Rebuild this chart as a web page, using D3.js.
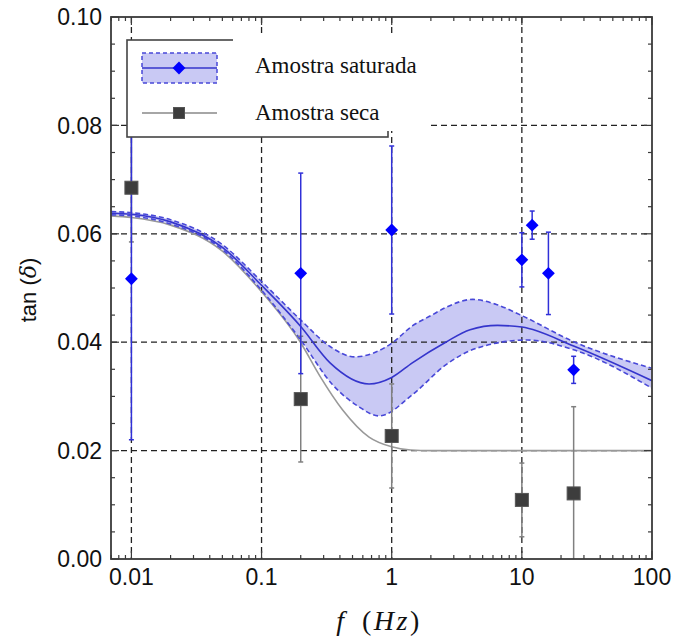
<!DOCTYPE html>
<html>
<head>
<meta charset="utf-8">
<script src="https://cdn.jsdelivr.net/npm/d3@7"></script>
<style>
  body { margin: 0; background: #fff; }
  svg { display: block; }
</style>
</head>
<body>
<svg id="chart" width="675" height="641"></svg>
<script>
// measured points (frequency in Hz, tan delta)
var satFreq = [0.01, 0.2, 1, 10, 12, 16, 25];
var satVal  = [0.0517, 0.0527, 0.0607, 0.0552, 0.0616, 0.0527, 0.0349];
var satErr  = [0.0297, 0.0185, 0.0155, 0.0050, 0.0026, 0.0076, 0.0025];

var dryFreq = [0.01, 0.2, 1, 10, 25];
var dryVal  = [0.0685, 0.0295, 0.0227, 0.0109, 0.0121];
var dryErr  = [0.0100, 0.0116, 0.0096, 0.0068, 0.0160];

// fitted curves
var satFit = [[0.007, 0.0638], [0.01, 0.0636], [0.02, 0.0622], [0.05, 0.0575], [0.1, 0.0505],
              [0.2, 0.0429], [0.336, 0.0362], [0.67, 0.0323], [1, 0.0335],
              [1.44, 0.0362], [2.6, 0.0400], [4, 0.0423], [6.5, 0.0431], [10, 0.0428],
              [25, 0.0393], [100, 0.0329]];
var satUpper = [[0.007, 0.0641], [0.01, 0.0639], [0.02, 0.0626], [0.05, 0.0580], [0.1, 0.0512],
                [0.2, 0.0441], [0.336, 0.0392], [0.52, 0.0373], [1, 0.0398],
                [1.44, 0.0430], [2, 0.0449], [2.6, 0.0464], [4.2, 0.0479], [6.3, 0.0470], [10, 0.0449],
                [25, 0.0401], [100, 0.0352]];
var satLower = [[0.007, 0.0635], [0.01, 0.0633], [0.02, 0.0618], [0.05, 0.0571], [0.1, 0.0496],
                [0.2, 0.0404], [0.35, 0.0322], [0.55, 0.0282], [0.8, 0.0264],
                [1.44, 0.0303], [2.6, 0.0358], [4.5, 0.0389], [11, 0.0404],
                [25, 0.0386], [100, 0.0315]];
var dryFit = [[0.007, 0.0633], [0.01, 0.0630], [0.02, 0.0616], [0.05, 0.0568], [0.1, 0.0493],
              [0.2, 0.0399], [0.28, 0.0338], [0.42, 0.0275], [0.67, 0.0225], [1, 0.0207],
              [1.4, 0.0201], [2, 0.0200], [100, 0.0200]];

var xTicks = [0.01, 0.1, 1, 10, 100];
var xTickLabels = ["0.01", "0.1", "1", "10", "100"];
var yTicks = [0, 0.02, 0.04, 0.06, 0.08, 0.10];

var svg = d3.select("#chart");
var pLeft = 111, pRight = 652, pTop = 17, pBottom = 559;

var x = d3.scaleLog().domain([0.00697, 100]).range([pLeft, pRight]);
var y = d3.scaleLinear().domain([0, 0.10]).range([pBottom, pTop]);

svg.append("clipPath").attr("id", "plotclip")
  .append("rect").attr("x", pLeft).attr("y", pTop).attr("width", pRight - pLeft).attr("height", pBottom - pTop);

var plot = svg.append("g").attr("clip-path", "url(#plotclip)");

var curveLine = d3.line()
  .x(function(d) { return x(d[0]); })
  .y(function(d) { return y(d[1]); })
  .curve(d3.curveMonotoneX);

var upPath = curveLine(satUpper);
var lowPath = curveLine(satLower);

/* confidence band: sample both drawn edges on one pixel grid, then fill between them */
var helper = svg.append("g").attr("visibility", "hidden");
var upNode = helper.append("path").attr("d", upPath).node();
var lowNode = helper.append("path").attr("d", lowPath).node();
function sampleAt(node, px) {
  let a = 0, b = node.getTotalLength();
  for (let k = 0; k < 30; k++) {
    let m = (a + b) / 2;
    if (node.getPointAtLength(m).x < px) a = m; else b = m;
  }
  return node.getPointAtLength((a + b) / 2).y;
}
var bandPts = d3.range(x(0.007), x(100) + 0.5, 2).map(function(px) {
  return [px, sampleAt(upNode, px), sampleAt(lowNode, px)];
});
plot.append("path")
  .attr("d", d3.area().x(function(d) { return d[0]; }).y0(function(d) { return d[2]; }).y1(function(d) { return d[1]; })(bandPts))
  .attr("fill", "#c9c9f4")
  .attr("stroke", "none");

/* grid lines */
var grid = plot.append("g");
xTicks.slice(0, 4).forEach(function(t) {
  grid.append("line")
    .attr("x1", x(t)).attr("x2", x(t)).attr("y1", pTop).attr("y2", pBottom)
    .attr("stroke", "#222").attr("stroke-width", 1.3).attr("stroke-dasharray", "6,4");
});
yTicks.slice(1, 5).forEach(function(t) {
  grid.append("line")
    .attr("x1", pLeft).attr("x2", pRight).attr("y1", y(t)).attr("y2", y(t))
    .attr("stroke", "#222").attr("stroke-width", 1.3).attr("stroke-dasharray", "6,4");
});

/* fitted curves */
plot.append("path").attr("d", curveLine(dryFit))
  .attr("fill", "none").attr("stroke", "#999").attr("stroke-width", 1.6);
plot.append("path").attr("d", upPath)
  .attr("fill", "none").attr("stroke", "#4848d8").attr("stroke-width", 1.6).attr("stroke-dasharray", "5,3");
plot.append("path").attr("d", lowPath)
  .attr("fill", "none").attr("stroke", "#4848d8").attr("stroke-width", 1.6).attr("stroke-dasharray", "5,3");
plot.append("path").attr("d", curveLine(satFit))
  .attr("fill", "none").attr("stroke", "#3535cc").attr("stroke-width", 1.6);

/* error bars */
function errorBars(freq, val, err, color) {
  for (let i = 0; i < freq.length; i++) {
    let cx = x(freq[i]);
    let y1 = y(val[i] + err[i]), y2 = y(val[i] - err[i]);
    plot.append("line").attr("x1", cx).attr("x2", cx).attr("y1", y1).attr("y2", y2)
      .attr("stroke", color).attr("stroke-width", 1.5);
    [y1, y2].forEach(function(yy) {
      plot.append("line").attr("x1", cx - 2.5).attr("x2", cx + 2.5).attr("y1", yy).attr("y2", yy)
        .attr("stroke", color).attr("stroke-width", 1.5);
    });
  }
}
errorBars(dryFreq, dryVal, dryErr, "#808080");
errorBars(satFreq, satVal, satErr, "#3030d8");

/* markers */
for (let i = 0; i < dryFreq.length; i++) {
  plot.append("rect")
    .attr("x", x(dryFreq[i]) - 6.5).attr("y", y(dryVal[i]) - 6.5)
    .attr("width", 13).attr("height", 13)
    .attr("fill", "#3d3d3d").attr("stroke", "#555").attr("stroke-width", 1);
}
var diamond = d3.symbol().type(d3.symbolDiamond2).size(105);
for (let i = 0; i < satFreq.length; i++) {
  plot.append("path")
    .attr("d", diamond())
    .attr("transform", "translate(" + x(satFreq[i]) + "," + y(satVal[i]) + ")")
    .attr("fill", "#0000ff");
}

/* axes frame and ticks (inward) */
var frameColor = "#3a3a3a";
var minorX = [];
for (let e = -3; e < 2; e++) {
  for (let m = 2; m <= 9; m++) {
    let v = m * Math.pow(10, e);
    if (v > 0.00697 && v < 100) minorX.push(v);
  }
}
var minorY = d3.range(0.005, 0.1, 0.005).filter(function(v) { return Math.abs(v / 0.02 - Math.round(v / 0.02)) > 0.01; });

var ticks = svg.append("g").attr("stroke", frameColor).attr("stroke-width", 1.2);
minorX.forEach(function(v) {
  ticks.append("line").attr("x1", x(v)).attr("x2", x(v)).attr("y1", pBottom).attr("y2", pBottom - 4);
  ticks.append("line").attr("x1", x(v)).attr("x2", x(v)).attr("y1", pTop).attr("y2", pTop + 4);
});
xTicks.forEach(function(v) {
  ticks.append("line").attr("x1", x(v)).attr("x2", x(v)).attr("y1", pBottom).attr("y2", pBottom - 8);
  ticks.append("line").attr("x1", x(v)).attr("x2", x(v)).attr("y1", pTop).attr("y2", pTop + 8);
});
minorY.forEach(function(v) {
  ticks.append("line").attr("x1", pLeft).attr("x2", pLeft + 4).attr("y1", y(v)).attr("y2", y(v));
  ticks.append("line").attr("x1", pRight).attr("x2", pRight - 4).attr("y1", y(v)).attr("y2", y(v));
});
yTicks.forEach(function(v) {
  ticks.append("line").attr("x1", pLeft).attr("x2", pLeft + 8).attr("y1", y(v)).attr("y2", y(v));
  ticks.append("line").attr("x1", pRight).attr("x2", pRight - 8).attr("y1", y(v)).attr("y2", y(v));
});

svg.append("rect")
  .attr("x", pLeft).attr("y", pTop).attr("width", pRight - pLeft).attr("height", pBottom - pTop)
  .attr("fill", "none").attr("stroke", frameColor).attr("stroke-width", 1.8);

/* tick labels */
var labelFont = "'Liberation Sans', Arial, sans-serif";
yTicks.forEach(function(v) {
  svg.append("text")
    .attr("x", 102).attr("y", y(v)).attr("dy", "0.36em")
    .attr("text-anchor", "end")
    .attr("font-family", labelFont).attr("font-size", 23).attr("fill", "#111")
    .text(v.toFixed(2));
});
xTicks.forEach(function(v, i) {
  svg.append("text")
    .attr("x", x(v)).attr("y", 585)
    .attr("text-anchor", "middle")
    .attr("font-family", labelFont).attr("font-size", 23).attr("fill", "#111")
    .text(xTickLabels[i]);
});

/* axis titles */
var yTitle = svg.append("text")
  .attr("transform", "translate(36,290) rotate(-90)")
  .attr("text-anchor", "middle")
  .attr("font-family", labelFont).attr("font-size", 22).attr("fill", "#111");
yTitle.append("tspan").text("tan (");
yTitle.append("tspan").attr("font-family", "'DejaVu Serif', serif").attr("font-style", "italic").text("δ");
yTitle.append("tspan").text(")");

var xTitle = svg.append("text")
  .attr("x", 379).attr("y", 630)
  .attr("text-anchor", "middle")
  .attr("font-family", "'Liberation Serif', 'Times New Roman', serif").attr("font-size", 28)
  .attr("letter-spacing", 2.5).attr("word-spacing", 6).attr("fill", "#111");
xTitle.append("tspan").attr("font-style", "italic").text("f");
xTitle.append("tspan").text(" (");
xTitle.append("tspan").attr("font-style", "italic").text("Hz");
xTitle.append("tspan").text(")");

/* legend */
var lg = svg.append("g");
lg.append("rect").attr("x", 127).attr("y", 40).attr("width", 261).attr("height", 97)
  .attr("fill", "#fff").attr("stroke", "#444").attr("stroke-width", 1.6);
// white patch behind the legend texts
lg.append("rect").attr("x", 233).attr("y", 37).attr("width", 195).attr("height", 94).attr("fill", "#fff");

lg.append("rect").attr("x", 142).attr("y", 53).attr("width", 75).attr("height", 30)
  .attr("fill", "#c9c9f4").attr("stroke", "#4848d8").attr("stroke-width", 1.5).attr("stroke-dasharray", "4,3");
lg.append("line").attr("x1", 142).attr("x2", 217).attr("y1", 68).attr("y2", 68)
  .attr("stroke", "#3535cc").attr("stroke-width", 1.6);
lg.append("path").attr("d", diamond()).attr("transform", "translate(179,68)").attr("fill", "#0000ff");

lg.append("line").attr("x1", 142).attr("x2", 217).attr("y1", 113).attr("y2", 113)
  .attr("stroke", "#888").attr("stroke-width", 1.6);
lg.append("rect").attr("x", 173.5).attr("y", 107.5).attr("width", 11).attr("height", 11)
  .attr("fill", "#3d3d3d").attr("stroke", "#555").attr("stroke-width", 1);

var legFont = "'Liberation Serif', 'Times New Roman', serif";
lg.append("text").attr("x", 255).attr("y", 73).attr("font-family", legFont).attr("font-size", 23)
  .attr("fill", "#111").text("Amostra saturada");
lg.append("text").attr("x", 255).attr("y", 120).attr("font-family", legFont).attr("font-size", 23)
  .attr("fill", "#111").text("Amostra seca");
</script>
</body>
</html>
